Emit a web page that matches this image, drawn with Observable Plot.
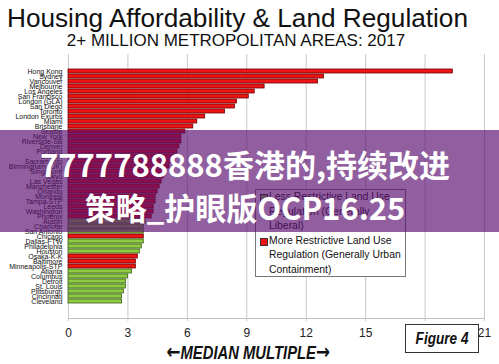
<!DOCTYPE html>
<html>
<head>
<meta charset="utf-8">
<script src="https://cdn.jsdelivr.net/npm/d3@7"></script>
<script src="https://cdn.jsdelivr.net/npm/@observablehq/plot@0.6"></script>
<style>
  html, body { margin: 0; padding: 0; background: #fff; overflow: hidden; }
  #wrap { position: relative; width: 499px; height: 364px; font-family: "Liberation Sans", Arial, sans-serif; }
  #chart { position: absolute; left: 0; top: 0; }
  .abs { position: absolute; white-space: nowrap; }
  #title { left: 0; width: 475px; text-align: center; top: 3px; font-size: 26.2px; color: #111; }
  #subtitle { left: 0; width: 472px; text-align: center; top: 31px; font-size: 17px; color: #111; }
  #legend { left: 255px; top: 189px; width: 149px; height: 86px; border: 1px solid #777; background: #fff; font-size: 10.4px; line-height: 14.6px; color: #111; }
  .li { position: relative; padding-left: 12px; margin-left: 1px; }
  .sw { position: absolute; left: 3px; top: 4px; width: 6px; height: 6px; border: 1px solid #333; }
  #fig { left: 405px; top: 324px; width: 72px; height: 27px; border: 1px solid #333; background: #fff; text-align: center; font: italic bold 17px "Liberation Sans", Arial, sans-serif; line-height: 27px; color: #111; }
  #xlabel { left: 0; width: 497px; text-align: center; top: 340px; font: italic bold 18.5px "Liberation Sans", Arial, sans-serif; color: #111; }
  .sq { display: inline-block; transform: scaleX(0.8); transform-origin: center; }
  .arr { font-family: "DejaVu Sans", sans-serif; font-style: normal; font-weight: bold; font-size: 21px; }
  #overlay { left: 0; top: 130px; width: 499px; height: 102px; background: rgba(88, 12, 110, 0.66); z-index: 5; }
  .ov { z-index: 6; left: 0; width: 490px; text-align: center; color: #fff; font: bold 31px "Noto Sans CJK SC", sans-serif; }
</style>
</head>
<body>
<div id="wrap">
  <div id="chart"></div>
  <div class="abs" id="title">Housing Affordability &amp; Land Regulation</div>
  <div class="abs" id="subtitle">2+ MILLION METROPOLITAN AREAS: 2017</div>
  <div class="abs" id="legend"></div>
  <div class="abs" id="fig"><span class="sq">Figure 4</span></div>
  <div class="abs" id="xlabel"><span class="sq"><span class="arr">←</span>MEDIAN MULTIPLE<span class="arr">→</span></span></div>
  <div class="abs" id="overlay"></div>
  <div class="abs ov" style="top:141px">7777788888香港的,持续改进</div>
  <div class="abs ov" style="top:184px">策略_护眼版OCP16.25</div>
</div>
<script>
const cities = ["Hong Kong","Sydney","Vancouver","Melbourne","Los Angeles","San Francisco","London (GLA)","San Diego","Toronto","London Exurbs","Miami","Brisbane","Seattle","New York","Riverside-SB","Denver","Portland","Boston","Sacramento","Birmingham (UK)","Singapore","Tokyo","Las Vegas","Manchester","Orlando","Montreal","Tampa-STP","Leeds","Washington","Phoenix","Austin","Charlotte","San Antonio","Chicago","Dallas-FTW","Philadelphia","Houston","Osaka-K-K","Baltimore","Minneapolis-STP","Atlanta","Columbus","Detroit","St. Louis","Pittsburgh","Cincinnati","Cleveland"];
const values = [19.4,12.9,12.6,9.9,9.4,9.1,8.5,8.4,7.9,6.9,6.5,6.3,5.9,5.7,5.7,5.6,5.5,5.4,5.3,5.1,4.9,4.8,4.7,4.6,4.5,4.4,4.4,4.3,4.3,4.2,3.9,3.8,3.8,3.8,3.8,3.7,3.6,3.5,3.4,3.4,3.2,3.0,2.9,2.9,2.8,2.7,2.7];
const regulation = ["more","more","more","more","more","more","more","more","more","more","more","more","more","more","more","more","more","more","more","more","more","more","more","more","more","more","more","more","more","more","less","less","less","more","less","less","less","more","more","more","less","less","less","less","less","less","less"];
const xTicks = [0,3,6,9,12,15,18,21];
const legendLabels = {
  less: "Less Restrictive Land Use<br>Regulation (Generally<br>Liberal)",
  more: "More Restrictive Land Use<br>Regulation (Generally Urban<br>Containment)"
};
const fills = {more: "#ee1414", less: "#8fcb45"};
const strokes = {more: "#6a0000", less: "#36600e"};

const data = cities.map((c, i) => ({city: c, value: values[i], reg: regulation[i]}));

const chart = Plot.plot({
  width: 499,
  height: 364,
  marginTop: 54,
  marginBottom: 46,
  marginLeft: 68,
  marginRight: 15,
  style: {fontFamily: "'Liberation Sans', Arial, sans-serif", background: "transparent"},
  x: {domain: [0, 21], ticks: xTicks},
  y: {domain: cities, padding: 0.14},
  marks: [
    Plot.gridX(xTicks, {stroke: "#c8c8c8", strokeOpacity: 1, strokeWidth: 1}),
    Plot.frame({anchor: "bottom", stroke: "#c0c0c0"}),
    Plot.barX(data, {x: "value", y: "city", fill: d => fills[d.reg], stroke: d => strokes[d.reg], strokeWidth: 0.8}),
    Plot.axisX({ticks: xTicks, tickSize: 3, tickPadding: 7, stroke: "#c8c8c8", fontSize: 12, fill: "#222", label: null}),
    Plot.axisY({tickSize: 0, tickPadding: 6, fontSize: 7, fill: "#111", label: null})
  ]
});
document.getElementById("chart").appendChild(chart);

const leg = document.getElementById("legend");
["less", "more"].forEach(k => {
  const d = document.createElement("div");
  d.className = "li";
  d.innerHTML = `<span class="sw" style="background:${fills[k]}"></span>${legendLabels[k]}`;
  leg.appendChild(d);
});
</script>
</body>
</html>
